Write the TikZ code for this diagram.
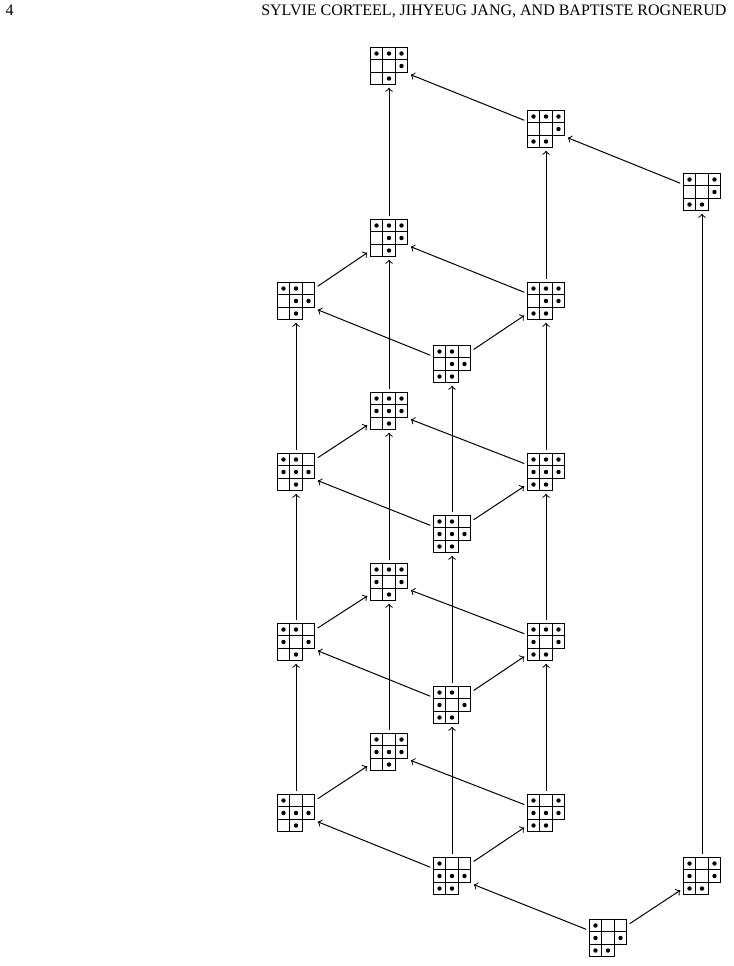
\documentclass[tikz,border=0pt]{standalone}
\usepackage{fontspec}
\setmainfont{Liberation Serif}

% one filling of the shape (3,3,2): name, position, dots of rows 1--3
\newcommand{\filling}[5]{%
  \node[tab] (#1) at (#2) {};
  \begin{scope}[shift={(#1.center)}]
    \foreach \v [count=\c] in {#3} {%
      \draw (12.5*\c-31.25,-18.75) rectangle ++(12.5,12.5);
      \ifnum\v=1 \fill (12.5*\c-25,-12.5) circle[radius=1.1pt];\fi}
    \foreach \v [count=\c] in {#4} {%
      \draw (12.5*\c-31.25,-6.25) rectangle ++(12.5,12.5);
      \ifnum\v=1 \fill (12.5*\c-25,0) circle[radius=1.1pt];\fi}
    \foreach \v [count=\c] in {#5} {%
      \draw (12.5*\c-31.25,6.25) rectangle ++(12.5,12.5);
      \ifnum\v=1 \fill (12.5*\c-25,12.5) circle[radius=1.1pt];\fi}
  \end{scope}}

\tikzset{
  tab/.style={rectangle, minimum size=18.75pt, inner sep=0pt, outer sep=1.5pt},
  cover/.style={->, line width=0.5pt},
}

\begin{document}
\begin{tikzpicture}[x=0.5pt, y=-0.5pt, line width=0.6pt]
  \useasboundingbox (0,0) rectangle (734,966);

  % running head
  \node[anchor=base west, inner sep=0pt, font=\fontsize{8}{9}\selectfont] (pagenum) at (5,15) {4};
  \node[anchor=base east, inner sep=0pt, font=\fontsize{8}{9}\selectfont] (runhead) at (727,15)
    {SYLVIE CORTEEL, JIHYEUG JANG, AND BAPTISTE ROGNERUD};

  % top
  \filling{m0}{389,66}{1,1,1}{0,0,1}{0,1}
  \filling{r0}{546,129}{1,1,1}{0,0,1}{1,1}
  \filling{t0}{702,192}{1,0,1}{0,0,1}{1,1}

  % layer 1
  \filling{m1}{389,238}{1,1,1}{0,1,1}{0,1}
  \filling{l1}{296,301}{1,1,0}{0,1,1}{0,1}
  \filling{r1}{546,301}{1,1,1}{0,1,1}{1,1}
  \filling{b1}{452,364}{1,1,0}{0,1,1}{1,1}

  % layer 2
  \filling{m2}{389,411}{1,1,1}{1,1,1}{0,1}
  \filling{l2}{296,472}{1,1,0}{1,1,1}{0,1}
  \filling{r2}{546,472}{1,1,1}{1,1,1}{1,1}
  \filling{b2}{452,534}{1,1,0}{1,1,1}{1,1}

  % layer 3
  \filling{m3}{389,582}{1,1,1}{1,0,1}{0,1}
  \filling{l3}{296,642}{1,1,0}{1,0,1}{0,1}
  \filling{r3}{546,642}{1,1,1}{1,0,1}{1,1}
  \filling{b3}{452,705}{1,1,0}{1,0,1}{1,1}

  % layer 4
  \filling{m4}{389,752}{1,0,1}{1,1,1}{0,1}
  \filling{l4}{296,813}{1,0,0}{1,1,1}{0,1}
  \filling{r4}{546,813}{1,0,1}{1,1,1}{1,1}
  \filling{b4}{452,876}{1,0,0}{1,1,1}{1,1}

  % bottom
  \filling{t4}{702,876}{1,0,1}{1,0,1}{1,1}
  \filling{u4}{608,938}{1,0,0}{1,0,1}{1,1}

  \draw[cover] (m1) -- (m0);
  \draw[cover] (r0) -- (m0);
  \draw[cover] (t0) -- (r0);
  \draw[cover] (r1) -- (r0);
  \draw[cover] (t4) -- (t0);

  \draw[cover] (l1) -- (m1);
  \draw[cover] (r1) -- (m1);
  \draw[cover] (b1) -- (l1);
  \draw[cover] (b1) -- (r1);
  \draw[cover] (m2) -- (m1);
  \draw[cover] (l2) -- (l1);
  \draw[cover] (r2) -- (r1);
  \draw[cover] (b2) -- (b1);

  \draw[cover] (l2) -- (m2);
  \draw[cover] (r2) -- (m2);
  \draw[cover] (b2) -- (l2);
  \draw[cover] (b2) -- (r2);
  \draw[cover] (m3) -- (m2);
  \draw[cover] (l3) -- (l2);
  \draw[cover] (r3) -- (r2);
  \draw[cover] (b3) -- (b2);

  \draw[cover] (l3) -- (m3);
  \draw[cover] (r3) -- (m3);
  \draw[cover] (b3) -- (l3);
  \draw[cover] (b3) -- (r3);
  \draw[cover] (m4) -- (m3);
  \draw[cover] (l4) -- (l3);
  \draw[cover] (r4) -- (r3);
  \draw[cover] (b4) -- (b3);

  \draw[cover] (l4) -- (m4);
  \draw[cover] (r4) -- (m4);
  \draw[cover] (b4) -- (l4);
  \draw[cover] (b4) -- (r4);
  \draw[cover] (u4) -- (b4);
  \draw[cover] (u4) -- (t4);
\end{tikzpicture}
\end{document}
